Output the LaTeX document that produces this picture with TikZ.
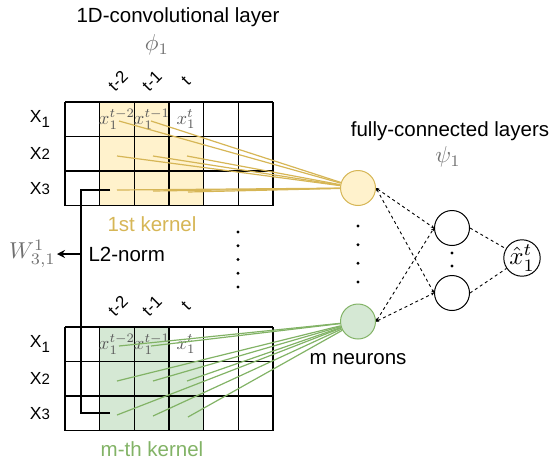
\documentclass[tikz,border=0pt]{standalone}
\usepackage{amsmath}
\usepackage{fontspec}
\setmainfont{Liberation Sans}
\usetikzlibrary{arrows.meta}
\definecolor{kyel}{HTML}{D6B656}
\definecolor{kyelfill}{HTML}{FFF2CC}
\definecolor{kgrn}{HTML}{82B366}
\definecolor{kgrnfill}{HTML}{D5E8D4}
\definecolor{mgray}{HTML}{707070}

\tikzset{
  neuron/.style={circle, draw, line width=1pt, minimum size=35pt, inner sep=0pt},
  fcline/.style={dashed, line width=0.9pt, {Stealth[length=3pt,width=3pt]}-{Stealth[length=3pt,width=3pt]}},
  lbl/.style={font=\fontsize{20.5}{23}\selectfont},
  xlbl/.style={font=\fontsize{17.5}{20}\selectfont},
  tlbl/.style={font=\fontsize{17}{19}\selectfont, rotate=45},
  mlbl/.style={text=mgray, font=\fontsize{10}{12}\selectfont},
  cellx/.style={text=mgray!80!black, font=\fontsize{10}{12}\selectfont, inner sep=0pt},
}

\begin{document}
\begin{tikzpicture}[x=1pt, y=-1pt]
\useasboundingbox (0,0) rectangle (554,461);

% titles
\node[lbl] (convtitle) at (178,17) {1D-convolutional layer};
\node[mlbl] (phi) at (157,45) {\scalebox{2.3}{$\phi_1$}};
\node[lbl] (fctitle) at (450,131) {fully-connected layers};
\node[mlbl] (psi) at (448,157) {\scalebox{2.3}{$\psi_1$}};

% neurons
\node[neuron, draw=kyel, fill=kyelfill] (yel) at (358,188) {};
\node[neuron, draw=kgrn, fill=kgrnfill] (grn) at (358,321.5) {};
\node[neuron] (h1) at (452,228) {};
\node[neuron] (h2) at (452,293) {};
\node[neuron, font=\fontsize{10}{12}\selectfont] (out) at (522,258) {\scalebox{2.5}{$\hat{x}_1^t$}};
\node[lbl] (mneur) at (358,359) {m neurons};

\foreach \y in {226,244.7,263.3,282}
\fill (358,\y) circle (1.6);
\foreach \y in {253,266}
\fill (452,\y) circle (1.6);
\foreach \y in {232,245.75,259.5,273.25,287}
\fill (238,\y) circle (1.6);

\draw[fcline] (yel.east) -- (h1.west);
\draw[fcline] (yel.east) -- (h2.west);
\draw[fcline] (grn.east) -- (h1.west);
\draw[fcline] (grn.east) -- (h2.west);
\draw[fcline, -] (h1.east) -- (out);
\draw[fcline, -] (h2.east) -- (out);

% the two kernels
\foreach \oy/\fc/\lc/\nn/\klab in {102/kyelfill/kyel/yel/1st kernel, 327/kgrnfill/kgrn/grn/m-th kernel}{
\begin{scope}[shift={(65,\oy)}]
\fill[\fc] (34.67,0) rectangle (104,103.5);
\fill[\fc] (104,34.5) rectangle (138.67,103.5);
\foreach \i in {0,...,6}
\draw[line width=1.2pt] (\i*34.67,0) -- (\i*34.67,103.5);
\foreach \j in {0,...,3}
\draw[line width=1.2pt] (0,\j*34.5) -- (208,\j*34.5);
\node[xlbl] (xa) at (-25,17.25) {X\raisebox{-5pt}{\fontsize{15}{15}\selectfont 1}};
\node[xlbl] (xb) at (-25,51.75) {X{\fontsize{15}{15}\selectfont 2}};
\node[xlbl] (xc) at (-25,86.25) {X{\fontsize{15}{15}\selectfont 3}};
\node[tlbl] (ta) at (53,-21) {t-2};
\node[tlbl] (tb) at (87,-21) {t-1};
\node[tlbl] (tc) at (121,-21) {t};
\node[cellx] (ca) at (52,17.25) {\scalebox{1.85}{$x_1^{t-2}$}};
\node[cellx] (cb) at (87,17.25) {\scalebox{1.85}{$x_1^{t-1}$}};
\node[cellx] (cc) at (121,17.25) {\scalebox{1.85}{$x_1^{t}$}};
\foreach \p in {(54,19),(86,19),(52,54),(88,54),(122,54),(52,88),(88,89),(123,90)}
\draw[\lc, line width=1.2pt] \p coordinate (s) -- (\nn);
\node[lbl, text=\lc] (klab) at (87,122) {\klab};
\end{scope}
}

% L2-norm of the first row weights
\coordinate (ltop) at (110,190);
\coordinate (lbot) at (110,413);
\coordinate (lmid) at (81,254);
\draw[line width=1.4pt] (ltop) -| (lmid) |- (lbot);
\node[mlbl, anchor=east, inner sep=1pt] (W) at (57,254) {\scalebox{2.3}{$W_{3,1}^1$}};
\draw[line width=1.4pt, -{Stealth[length=8pt,width=8pt]}] (lmid) -- (W.east);
\node[lbl, anchor=west] (l2) at (85,254) {L2-norm};
\end{tikzpicture}
\end{document}
